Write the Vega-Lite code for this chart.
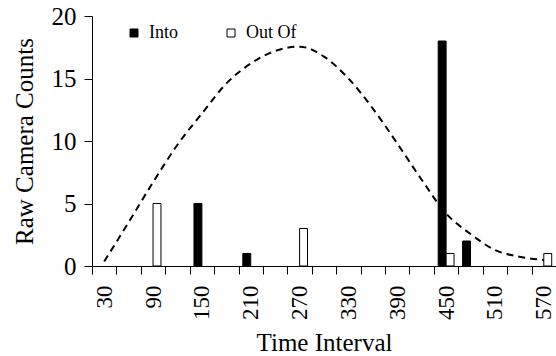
{
  "$schema": "https://vega.github.io/schema/vega-lite/v6.json",
  "width": 464,
  "height": 250,
  "autosize": {"type": "none"},
  "padding": {"left": 92, "top": 16, "right": 0, "bottom": 90},
  "background": "white",
  "config": {
    "view": {"stroke": null},
    "font": "Liberation Serif, DejaVu Serif, serif",
    "axis": {"domainColor": "black", "tickColor": "black", "labelColor": "black", "titleColor": "black", "grid": false, "labelFont": "Liberation Serif, DejaVu Serif, serif", "titleFont": "Liberation Serif, DejaVu Serif, serif", "titleFontWeight": "normal"}
  },
  "datasets": {
    "bars": [
      {"interval": 90, "series": "Out Of", "count": 5},
      {"interval": 150, "series": "Into", "count": 5},
      {"interval": 210, "series": "Into", "count": 1},
      {"interval": 270, "series": "Out Of", "count": 3},
      {"interval": 450, "series": "Into", "count": 18},
      {"interval": 450, "series": "Out Of", "count": 1},
      {"interval": 480, "series": "Into", "count": 2},
      {"interval": 570, "series": "Out Of", "count": 1}
    ],
    "curve": [
      {"interval": 30, "value": 0.36},
      {"interval": 60, "value": 3.5},
      {"interval": 90, "value": 6.7},
      {"interval": 120, "value": 9.7},
      {"interval": 150, "value": 12.2},
      {"interval": 180, "value": 14.6},
      {"interval": 210, "value": 16.2},
      {"interval": 240, "value": 17.2},
      {"interval": 270, "value": 17.55},
      {"interval": 300, "value": 16.75},
      {"interval": 330, "value": 15.0},
      {"interval": 360, "value": 12.6},
      {"interval": 390, "value": 9.8},
      {"interval": 420, "value": 6.9},
      {"interval": 450, "value": 4.2},
      {"interval": 480, "value": 2.56},
      {"interval": 510, "value": 1.28},
      {"interval": 540, "value": 0.74},
      {"interval": 570, "value": 0.48}
    ]
  },
  "layer": [
    {
      "data": {"name": "bars"},
      "mark": {"type": "bar", "stroke": "black", "strokeWidth": 1},
      "encoding": {
        "x": {
          "field": "interval", "type": "ordinal",
          "scale": {"paddingInner": 0, "paddingOuter": 0},
          "axis": {
            "title": "Time Interval", "titleFontSize": 25, "titlePadding": 11,
            "labelAngle": 270, "labelFontSize": 23, "labelPadding": 11,
            "tickBand": "extent", "tickSize": 8,
            "labelExpr": "(datum.value - 30) % 60 == 0 ? datum.label : ''"
          }
        },
        "xOffset": {"field": "series", "type": "nominal", "scale": {"domain": ["Into", "Out Of"], "paddingOuter": 0.54, "paddingInner": 0}},
        "y": {
          "field": "count", "type": "quantitative",
          "scale": {"domain": [0, 20], "nice": false},
          "axis": {"title": "Raw Camera Counts", "titleFontSize": 25, "titlePadding": 14, "values": [0, 5, 10, 15, 20], "labelFontSize": 25, "labelPadding": 8, "tickSize": 8}
        },
        "color": {
          "field": "series", "type": "nominal",
          "scale": {"domain": ["Into", "Out Of"], "range": ["black", "white"]},
          "legend": {
            "title": null, "orient": "none", "legendX": 33, "legendY": 8, "direction": "horizontal",
            "symbolType": "square", "symbolSize": 64, "symbolStrokeColor": "black", "symbolStrokeWidth": 1,
            "labelFontSize": 18, "labelFont": "Liberation Serif, DejaVu Serif, serif", "labelColor": "black", "labelOffset": 6,
            "columnPadding": 44, "padding": 0
          }
        }
      }
    },
    {
      "data": {"name": "curve"},
      "mark": {"type": "line", "interpolate": "monotone", "color": "black", "strokeWidth": 2, "strokeDash": [7, 5]},
      "encoding": {
        "x": {"field": "interval", "type": "ordinal"},
        "y": {"field": "value", "type": "quantitative"}
      }
    }
  ]
}
